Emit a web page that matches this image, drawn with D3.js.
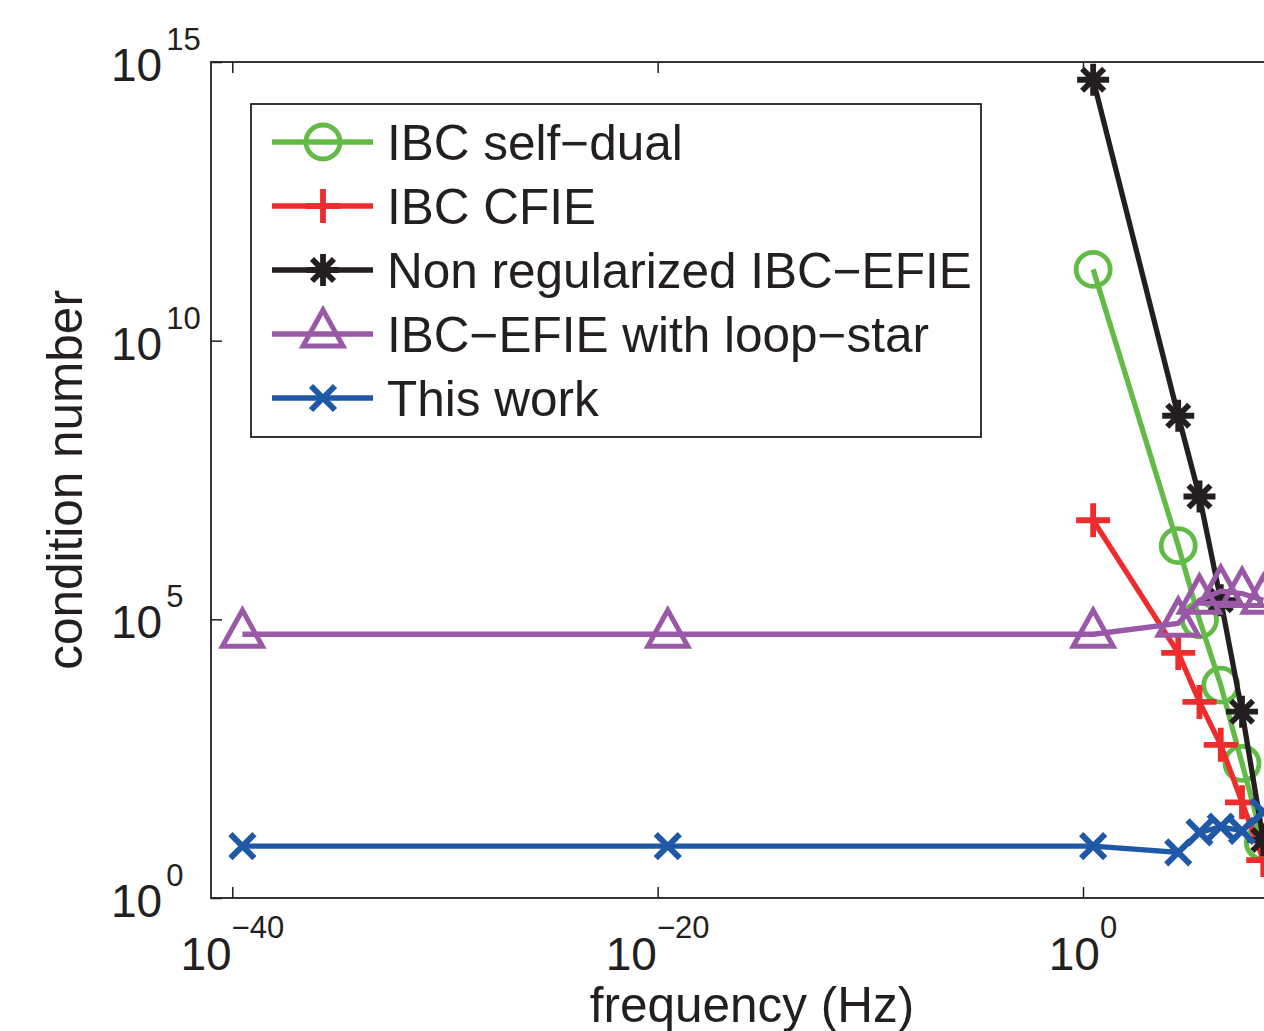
<!DOCTYPE html>
<html>
<head>
<meta charset="utf-8">
<script src="https://cdn.jsdelivr.net/npm/d3@7"></script>
<style>
    body { margin: 0; background: #fff; }
    svg { display: block; font-family: "Liberation Sans", Arial, Helvetica, sans-serif; }
</style>
</head>
<body>
<div id="chart"></div>
<script>

// frequencies (Hz) and condition numbers
let freqs     = [3e-40, 3e-20, 3, 3e4, 3e5, 3e6, 3e7, 3e8];
let selfDual  = [null, null, 1.9e11, 2.1e6, 9.8e4, 6.6e3, 2.6e2, 10];
let cfie      = [null, null, 6.0e6, 2.5e4, 3.3e3, 5.6e2, 52, 4.8];
let nonReg    = [null, null, 4.8e14, 4.5e8, 1.6e7, 2.2e5, 2.2e3, 11];
let loopStar  = [5.4e4, 5.4e4, 5.4e4, 8.5e4, 2.2e5, 3.2e5, 2.9e5, 2.2e5];
let thisWork  = [8.5, 8.5, 8.5, 6.6, 15, 19, 16, 35];

let xTicks = [1e-40, 1e-20, 1];
let xTickExp = ["\u221240", "\u221220", "0"];
let yTicks = [1, 1e5, 1e10, 1e15];
let yTickExp = ["0", "5", "10", "15"];

let seriesNames = ["IBC self\u2212dual", "IBC CFIE", "Non regularized IBC\u2212EFIE",
                   "IBC\u2212EFIE with loop\u2212star", "This work"];

let series = [
    {name: seriesNames[0], values: selfDual, color: "#62bb47", marker: "circle"},
    {name: seriesNames[1], values: cfie,     color: "#ee2c2e", marker: "plus"},
    {name: seriesNames[2], values: nonReg,   color: "#231f20", marker: "star"},
    {name: seriesNames[3], values: loopStar, color: "#9a59a7", marker: "triangle"},
    {name: seriesNames[4], values: thisWork, color: "#1f58a6", marker: "cross"}
];

let width = 1264, height = 1031;
let margin = {top: 62, left: 211, bottom: 898};
let pxPerDecade = (1083 - 211) / 41;

let svg = d3.select("#chart").append("svg")
    .attr("width", width)
    .attr("height", height);

// scales (plot runs past the right edge of the picture)
let x = d3.scaleLog()
    .domain([1e-41, 1e20])
    .range([margin.left, margin.left + 61 * pxPerDecade]);
let y = d3.scaleLog()
    .domain([1, 1e15])
    .range([margin.bottom, margin.top]);

let ink = "#231f20";

// axes box
svg.append("rect")
    .attr("x", x.range()[0])
    .attr("y", y.range()[1])
    .attr("width", x.range()[1] - x.range()[0])
    .attr("height", y.range()[0] - y.range()[1])
    .attr("fill", "none")
    .attr("stroke", ink)
    .attr("stroke-width", 1.8);

// inward ticks
let tickLen = 11;
svg.append("g")
    .attr("transform", "translate(0," + margin.bottom + ")")
    .call(d3.axisBottom(x).tickValues(xTicks).tickSize(-tickLen).tickFormat(""));
svg.append("g")
    .attr("transform", "translate(0," + margin.top + ")")
    .call(d3.axisTop(x).tickValues(xTicks).tickSize(-tickLen).tickFormat(""));
svg.append("g")
    .attr("transform", "translate(" + margin.left + ",0)")
    .call(d3.axisLeft(y).tickValues(yTicks).tickSize(-tickLen).tickFormat(""));
svg.selectAll(".domain").remove();
svg.selectAll(".tick line").attr("stroke", ink).attr("stroke-width", 1.5);

// tick labels, 10 with superscript exponent
let xLab = svg.append("g").selectAll("text")
    .data(xTicks)
    .enter()
    .append("text")
    .attr("x", d => x(d))
    .attr("y", 970)
    .attr("text-anchor", "middle")
    .attr("fill", ink);
xLab.append("tspan").attr("font-size", 46).text("10");
xLab.append("tspan").attr("font-size", 31).attr("dy", -32).text((d, i) => xTickExp[i]);

let yLab = svg.append("g").selectAll("text")
    .data(yTicks)
    .enter()
    .append("text")
    .attr("x", 111)
    .attr("y", d => y(d) + 19)
    .attr("fill", ink);
yLab.append("tspan").attr("font-size", 46).text("10");
yLab.append("tspan").attr("font-size", 31).attr("dx", 4).attr("dy", -31).text((d, i) => yTickExp[i]);

// axis titles
svg.append("text")
    .attr("x", 752)
    .attr("y", 1022)
    .attr("text-anchor", "middle")
    .attr("font-size", 49.5)
    .attr("fill", ink)
    .text("frequency (Hz)");
svg.append("text")
    .attr("transform", "translate(82,480) rotate(-90)")
    .attr("text-anchor", "middle")
    .attr("font-size", 49.5)
    .attr("fill", ink)
    .text("condition number");

// marker shapes, drawn around (0,0)
function drawMarker(g, type, color) {
    let s = g.append("g")
        .attr("fill", "none")
        .attr("stroke", color);
    if (type === "circle") {
        s.append("circle").attr("r", 17).attr("stroke-width", 4.8);
    } else if (type === "plus") {
        s.attr("stroke-width", 5.8)
         .append("path").attr("d", "M-17,0H17M0,-17V17");
    } else if (type === "star") {
        s.attr("stroke-width", 5.8)
         .append("path").attr("d", "M-16,0H16M0,-16V16M-11,-11L11,11M-11,11L11,-11");
    } else if (type === "triangle") {
        s.attr("stroke-width", 5)
         .attr("stroke-linejoin", "miter")
         .append("path").attr("d", "M0,-24L20,12L-20,12Z");
    } else if (type === "cross") {
        s.attr("stroke-width", 6)
         .append("path").attr("d", "M-12,-12L12,12M-12,12L12,-12");
    }
}

let line = d3.line()
    .defined(d => d.v != null)
    .x(d => x(d.f))
    .y(d => y(d.v));

// series, drawn in legend order
series.forEach(function(s) {
    let pts = freqs.map((f, i) => ({f: f, v: s.values[i]}));
    let g = svg.append("g");
    g.append("path")
        .datum(pts)
        .attr("d", line)
        .attr("fill", "none")
        .attr("stroke", s.color)
        .attr("stroke-width", 5.3)
        .attr("stroke-linejoin", "round");
    g.selectAll("g.mk")
        .data(pts.filter(d => d.v != null))
        .enter()
        .append("g")
        .attr("class", "mk")
        .attr("transform", d => "translate(" + x(d.f) + "," + y(d.v) + ")")
        .each(function() { drawMarker(d3.select(this), s.marker, s.color); });
});

// legend
let legend = svg.append("g");
legend.append("rect")
    .attr("x", 251)
    .attr("y", 104)
    .attr("width", 730)
    .attr("height", 333)
    .attr("fill", "#fff")
    .attr("stroke", ink)
    .attr("stroke-width", 1.8);

let rows = legend.selectAll("g.row")
    .data(series)
    .enter()
    .append("g")
    .attr("class", "row")
    .attr("transform", (d, i) => "translate(0," + (142 + i * 64) + ")");
rows.append("line")
    .attr("x1", 272)
    .attr("x2", 373)
    .attr("stroke", d => d.color)
    .attr("stroke-width", 5.3);
rows.append("g")
    .attr("transform", "translate(323,0)")
    .each(function(d) { drawMarker(d3.select(this), d.marker, d.color); });
rows.append("text")
    .attr("x", 387)
    .attr("y", 18)
    .attr("font-size", 49.5)
    .attr("fill", ink)
    .text(d => d.name);

</script>
</body>
</html>
